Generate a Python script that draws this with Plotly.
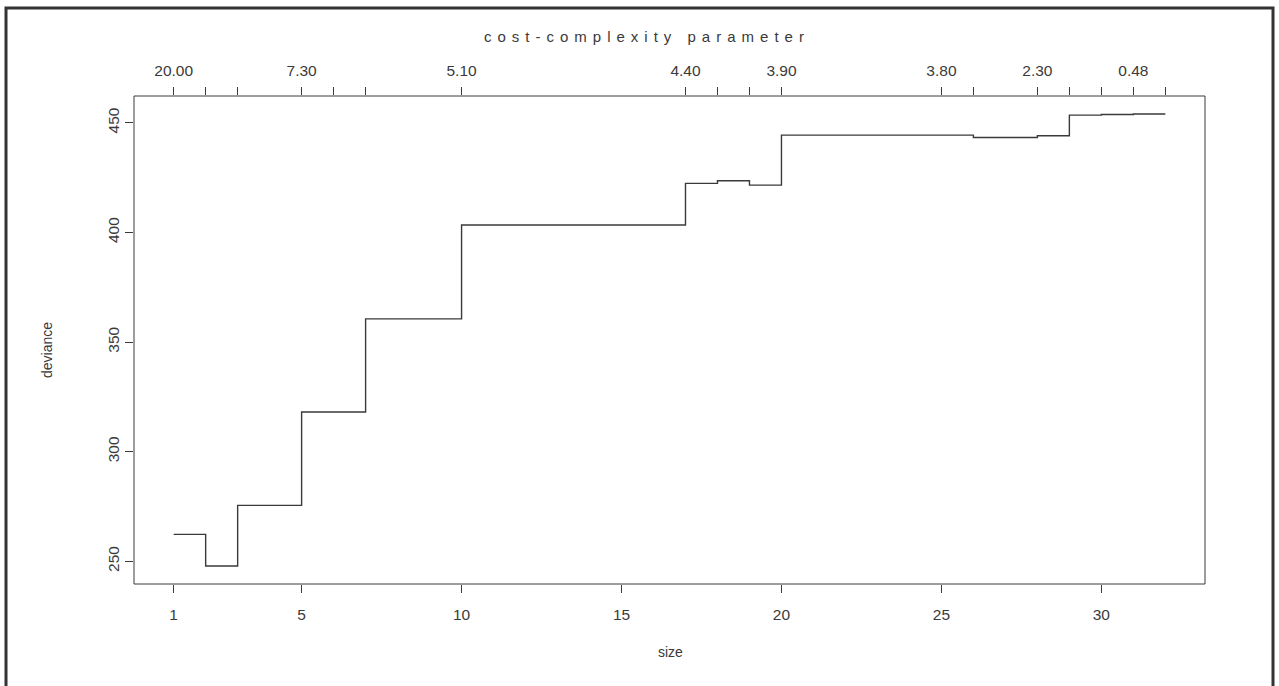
import plotly.graph_objects as go

# ---- data ----
sizes = [1, 2, 3, 5, 6, 7, 10, 17, 18, 19, 20, 25, 26, 28, 29, 30, 31, 32]
deviance = [262.3, 247.9, 275.5, 318.1, 318.1, 360.6, 403.4, 422.4, 423.6, 421.6,
            444.4, 444.4, 443.3, 444.1, 453.5, 453.8, 454.0, 454.0]
top_labels = ["20.00", "", "", "7.30", "", "", "5.10", "4.40", "", "", "3.90",
              "3.80", "", "2.30", "", "", "0.48", ""]
bottom_ticks = [1, 5, 10, 15, 20, 25, 30]
y_ticks = [250, 300, 350, 400, 450]

FONT = "Liberation Sans, Arial, sans-serif"
INK = "#3a3a3a"

# plot-area pixel geometry
W, H = 1279, 686
L, R, T, B = 134, 1205, 96, 584
pw, ph = R - L, B - T

def px(x):
    return (x - L) / pw

def py(y):
    return (B - y) / ph

xr = [min(sizes) - 0.04 * (max(sizes) - min(sizes)), max(sizes) + 0.04 * (max(sizes) - min(sizes))]
yr = [min(deviance) - 0.04 * (max(deviance) - min(deviance)), max(deviance) + 0.04 * (max(deviance) - min(deviance))]

fig = go.Figure()
fig.add_trace(go.Scatter(x=sizes, y=deviance, mode="lines", line=dict(shape="hv", color=INK, width=1.4),
                         showlegend=False, hoverinfo="x+y"))
fig.add_trace(go.Scatter(x=[sizes[0]], y=[deviance[0]], xaxis="x2", mode="markers",
                         marker=dict(opacity=0), showlegend=False, hoverinfo="skip"))

def axis_common(size=15.5, standoff=None):
    d = dict(showgrid=False, zeroline=False, showline=False, ticks="outside", ticklen=8,
             tickcolor=INK, tickwidth=1, tickfont=dict(family=FONT, size=size, color=INK))
    if standoff is not None:
        d["ticklabelstandoff"] = standoff
    return d

fig.update_layout(
    width=W, height=H,
    margin=dict(l=L, r=W - R, t=T, b=H - B),
    paper_bgcolor="white", plot_bgcolor="white",
    xaxis=dict(range=xr, tickmode="array", tickvals=bottom_ticks, **axis_common(standoff=8)),
    xaxis2=dict(range=xr, overlaying="x", side="top", anchor="y", tickmode="array",
                tickvals=sizes, ticktext=top_labels, **axis_common(standoff=5)),
    yaxis=dict(range=yr, tickmode="array", tickvals=y_ticks, tickangle=-90, **axis_common()),
    shapes=[
        dict(type="rect", xref="paper", yref="paper", x0=0, x1=1, y0=0, y1=1,
             line=dict(color=INK, width=1)),
        dict(type="rect", xref="paper", yref="paper", x0=px(6), x1=px(1273), y0=py(8), y1=py(720),
             line=dict(color="#333333", width=3)),
    ],
    annotations=[
        dict(text="cost-complexity parameter", xref="paper", yref="paper", x=px(647), y=py(37),
             showarrow=False, font=dict(family=FONT, size=15, color=INK), xanchor="center", yanchor="middle"),
        dict(text="size", xref="paper", yref="paper", x=px(670), y=py(652),
             showarrow=False, font=dict(family=FONT, size=14, color=INK), xanchor="center", yanchor="middle"),
        dict(text="deviance", xref="paper", yref="paper", x=px(47), y=py(350), textangle=-90,
             showarrow=False, font=dict(family=FONT, size=14, color=INK), xanchor="center", yanchor="middle"),
    ],
)

post = """
document.querySelectorAll('.annotation-text').forEach(function(e){
  if (e.textContent.indexOf('cost') === 0) { e.style.letterSpacing = '6px'; }
});
"""
fig.write_html("out.html", post_script=post)
